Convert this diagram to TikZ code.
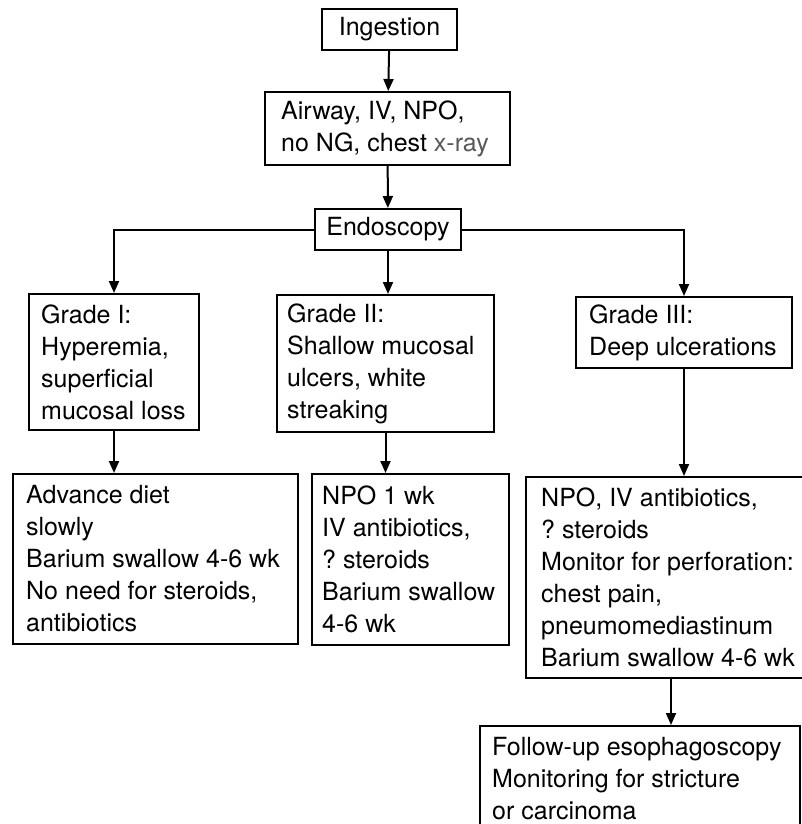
\documentclass[tikz,border=0pt]{standalone}
\usepackage{fontspec}
\setmainfont{TeX Gyre Heros}
\usetikzlibrary{arrows.meta}
\begin{document}
\begin{tikzpicture}[x=1pt,y=-1pt,
  frame/.style={draw, line width=2pt, inner sep=0pt},
  txt/.style={inner sep=0pt, align=left, anchor=west,
    font=\fontsize{25}{32}\selectfont},
  arr/.style={line width=2pt, -{Triangle[length=12pt,width=10pt]}}]
\useasboundingbox (0,0) rectangle (802,824);
\clip (0,0) rectangle (802,824);
\fill[white] (0,0) rectangle (802,824);
\frenchspacing
% top chain
\node[frame, minimum width=135pt, minimum height=41pt, font=\fontsize{25}{32}\selectfont] (ing) at (389.5,29.5) {Ingestion};
\node[frame, minimum width=245pt, minimum height=73pt] (air) at (387.5,128.5) {};
\node[txt] (airt) at ([xshift=17pt]air.west) {Airway, IV, NPO,\\no NG, chest {\color{black!65}x-ray}};
\node[frame, minimum width=146pt, minimum height=41pt, font=\fontsize{25}{32}\selectfont] (endo) at (388,229.5) {Endoscopy};
% grades
\node[frame, minimum width=170pt, minimum height=136pt] (g1) at (114,362) {};
\node[txt] (g1t) at ([xshift=13pt]g1.west) {Grade I:\\Hyperemia,\\superficial\\mucosal loss};
\node[frame, minimum width=217pt, minimum height=137pt] (g2) at (385.5,363.5) {};
\node[txt] (g2t) at ([xshift=11pt]g2.west) {Grade II:\\Shallow mucosal\\ulcers, white\\streaking};
\node[frame, minimum width=216pt, minimum height=71pt] (g3) at (684,332.5) {};
\node[txt] (g3t) at ([xshift=14pt]g3.west) {Grade III:\\Deep ulcerations};
% treatments
\node[frame, minimum width=285pt, minimum height=170pt] (t1) at (155.5,559) {};
\node[txt] (t1t) at ([xshift=14pt]t1.west) {Advance diet\\slowly\\Barium swallow 4-6 wk\\No need for steroids,\\antibiotics};
\node[frame, minimum width=197pt, minimum height=171pt] (t2) at (410.5,559.5) {};
\node[txt] (t2t) at ([xshift=11pt]t2.west) {NPO 1 wk\\IV antibiotics,\\? steroids\\Barium swallow\\4-6 wk};
\node[frame, minimum width=290pt, minimum height=201pt] (t3) at (671,577.5) {};
\node[txt] (t3t) at ([xshift=16pt]t3.west) {NPO, IV antibiotics,\\? steroids\\Monitor for perforation:\\chest pain,\\pneumomediastinum\\Barium swallow 4-6 wk};
\node[frame, minimum width=320pt, minimum height=106pt] (t4) at (640,779) {};
\node[txt] (t4t) at ([xshift=13pt]t4.west) {Follow-up esophagoscopy\\Monitoring for stricture\\or carcinoma};
% connectors
\draw[arr] (ing) -- (air);
\draw[arr] (air) -- (endo);
\draw[arr] (endo) -- (endo |- g2.north);
\draw[arr] (endo.west) -| (g1.north);
\draw[arr] (endo.east) -| (g3.north);
\draw[arr] (g1.south) -- (g1.south |- t1.north);
\draw[arr] (g2.south) -- (g2.south |- t2.north);
\draw[arr] (g3.south) -- (g3.south |- t3.north);
\draw[arr] (t3.south) -- (t3.south |- t4.north);
\end{tikzpicture}
\end{document}
